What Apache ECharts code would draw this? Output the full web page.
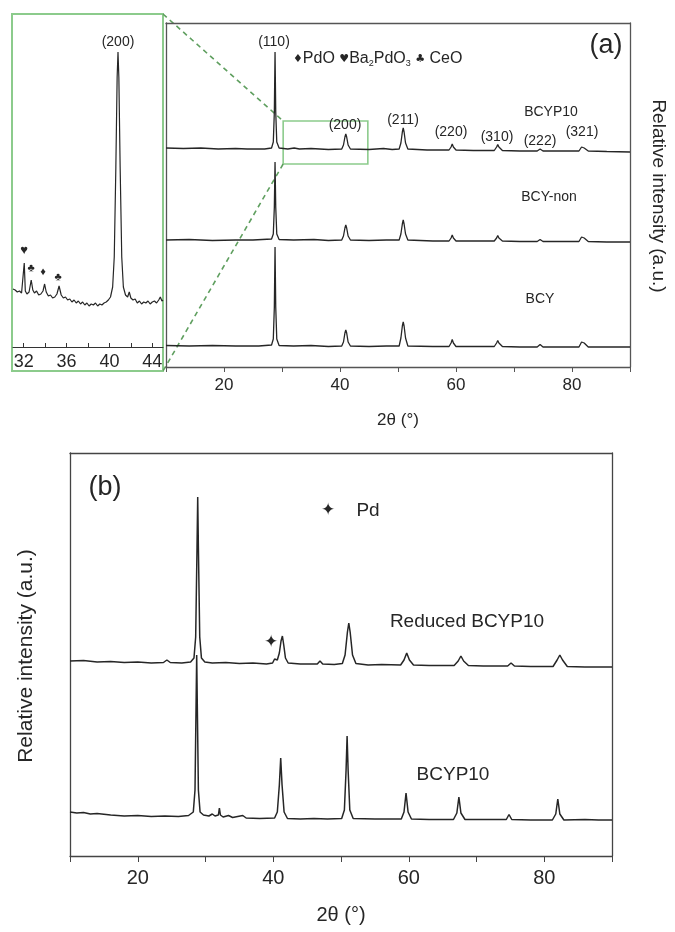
<!DOCTYPE html>
<html>
<head>
<meta charset="utf-8">
<script src="https://cdn.jsdelivr.net/npm/echarts@6/dist/echarts.min.js"></script>
<style>
html, body { margin: 0; padding: 0; background: #fff; }
#chart { width: 675px; height: 932px; }
</style>
</head>
<body>
<div id="chart"></div>
<script>
// x axis ticks / labels
const mainTicks = [10, 20, 30, 40, 50, 60, 70, 80, 90]
const mainLabels = [20, 40, 60, 80]
const insetTicks = [32, 34, 36, 38, 40, 42, 44]
const insetLabels = [32, 36, 40, 44]

// vertical offsets of the stacked patterns
const offsetsA = { BCYP10: 215, 'BCY-non': 125, BCY: 20 }
const offsetsB = { reduced: 189, BCYP10: 36 }

// (a) inset, 31-45 deg, BCYP10
const insetBCYP10 = [
  [31.0, 58], [31.2, 57], [31.4, 55], [31.6, 56], [31.8, 54], [31.95, 56], [32.05, 84], [32.15, 56], [32.3, 53], [32.5, 55],
  [32.7, 67], [32.85, 57], [33.0, 54], [33.2, 56], [33.4, 52], [33.6, 53], [33.8, 56], [33.95, 63], [34.1, 55], [34.3, 51],
  [34.5, 52], [34.7, 49], [34.9, 50], [35.1, 53], [35.3, 61], [35.5, 52], [35.7, 49], [35.9, 50], [36.1, 47], [36.3, 48],
  [36.5, 45], [36.7, 47], [36.9, 44], [37.1, 46], [37.3, 43], [37.5, 45], [37.7, 42], [37.9, 44], [38.1, 41], [38.3, 43],
  [38.5, 42], [38.7, 44], [38.9, 41], [39.1, 43], [39.3, 42], [39.5, 44], [39.7, 45], [39.9, 47], [40.1, 50], [40.3, 60],
  [40.45, 90], [40.6, 180], [40.72, 270], [40.8, 295], [40.88, 270], [41.0, 180], [41.15, 90], [41.3, 60], [41.5, 52], [41.7, 50],
  [41.85, 55], [42.0, 49], [42.2, 47], [42.4, 48], [42.6, 44], [42.8, 46], [43.0, 43], [43.2, 45], [43.4, 44], [43.6, 46],
  [43.8, 43], [44.0, 45], [44.2, 46], [44.4, 44], [44.6, 47], [44.75, 50], [44.9, 46], [45.0, 47]
]

// (a) main patterns
const patBCYP10 = [
  [10, 4], [13, 3.5], [16, 4], [19, 3], [22, 3.5], [24, 3], [24.3, 4.5], [24.6, 3], [27, 3], [28.2, 4],
  [28.5, 10], [28.68, 40], [28.8, 100], [28.92, 40], [29.1, 10], [29.5, 4], [31, 3], [32.1, 4], [33, 3], [35, 3.5],
  [38, 2.5], [40.3, 3], [40.6, 7], [40.85, 15], [41.0, 18], [41.15, 15], [41.4, 7], [41.8, 3], [45, 2.5], [47.5, 3.5],
  [49, 2.5], [50.2, 3], [50.5, 9], [50.75, 20], [50.9, 24], [51.05, 20], [51.3, 9], [51.7, 3], [55, 2], [58.8, 2],
  [59.15, 5], [59.35, 8], [59.55, 5], [60.0, 2], [63, 1.5], [66.6, 1.5], [67.0, 5], [67.2, 7.5], [67.4, 5], [68.0, 1.5],
  [71, 1], [74.0, 1], [74.5, 3], [75.0, 1], [78, 1], [81.2, 1], [81.65, 5], [81.85, 7], [82.1, 4], [82.8, 1],
  [86, 0.5], [90, 0]
]
const patBCYnon = [
  [10, 2], [14, 2.5], [18, 1.5], [22, 2], [25, 2], [28.2, 3], [28.5, 8], [28.68, 35], [28.8, 80], [28.92, 35],
  [29.1, 8], [29.5, 2.5], [32, 2], [35.5, 2.5], [38, 1.5], [40.3, 2], [40.6, 6], [40.85, 14], [41.0, 17], [41.15, 14],
  [41.4, 6], [41.8, 2], [45, 1.5], [48, 2], [50.2, 2], [50.5, 8], [50.75, 18], [50.9, 22], [51.05, 18], [51.3, 8],
  [51.7, 2], [56, 1], [58.8, 1], [59.15, 4], [59.35, 7], [59.55, 4], [60.0, 1], [63, 1], [66.6, 1], [67.0, 4],
  [67.2, 6.5], [67.4, 4], [68.0, 1], [71, 0.5], [74.0, 0.5], [74.5, 2.5], [75.0, 0.5], [78, 0.5], [81.2, 0.5], [81.65, 5],
  [81.85, 6.5], [82.1, 4], [82.8, 0.5], [86, 0], [90, 0]
]
const patBCY = [
  [10, 1.5], [14, 1], [18, 1.5], [22, 1], [26, 1], [28.2, 2], [28.5, 8], [28.68, 40], [28.8, 100], [28.92, 40],
  [29.1, 8], [29.5, 1.5], [32, 1], [35, 1.5], [38, 0.5], [40.3, 1], [40.6, 5], [40.85, 14], [41.0, 17], [41.15, 14],
  [41.4, 5], [41.8, 1], [45, 0.5], [48, 1], [50.2, 1], [50.5, 9], [50.75, 21], [50.9, 25], [51.05, 21], [51.3, 9],
  [51.7, 1], [56, 0.5], [58.8, 0.5], [59.15, 4], [59.35, 7.5], [59.55, 4], [60.0, 0.5], [63, 0.5], [66.6, 0.5], [67.0, 4],
  [67.2, 6.5], [67.4, 4], [68.0, 0.5], [71, 0], [74.0, 0], [74.5, 2.5], [75.0, 0], [78, 0], [81.2, 0], [81.65, 5],
  [81.85, 6.5], [82.1, 4], [82.8, 0], [86, 0], [90, 0]
]

// (b) patterns
const patReduced = [
  [10, 6], [12, 6.5], [14, 5], [16, 5.5], [18, 4.5], [20, 5], [22, 4], [23.8, 4.5], [24.3, 7], [24.8, 4.5],
  [26.5, 4], [27.8, 5], [28.3, 9], [28.55, 30], [28.75, 120], [28.85, 170], [28.95, 120], [29.15, 30], [29.4, 9], [29.9, 5],
  [31, 4], [33, 4.5], [35, 3.5], [37, 4], [39, 3], [39.9, 4], [40.2, 8], [40.4, 10], [40.6, 7], [40.9, 14],
  [41.15, 26], [41.35, 31], [41.55, 22], [41.8, 9], [42.2, 4], [44, 3], [46.5, 3], [46.9, 6], [47.3, 3], [49, 2.5],
  [50.2, 3.5], [50.6, 12], [50.95, 35], [51.15, 44], [51.35, 35], [51.7, 12], [52.2, 3.5], [54, 2], [56, 2.5], [58.8, 2],
  [59.3, 7], [59.7, 14], [60.1, 7], [60.7, 2], [63, 1.5], [66.7, 1.5], [67.3, 6], [67.7, 11], [68.1, 6], [68.8, 1.5],
  [71, 1], [74.6, 1], [75.1, 4], [75.6, 1], [78, 0.5], [81.3, 0.5], [81.9, 7], [82.3, 12], [82.7, 7], [83.4, 0.5],
  [86, 0], [90, 0]
]
const patBCYP10b = [
  [10, 8], [11, 7], [12, 7.5], [13, 6], [14, 6.5], [16, 5], [18, 4], [20, 4.5], [22, 3.5], [24, 4],
  [26, 3.5], [27.5, 4.5], [28.2, 8], [28.45, 30], [28.6, 110], [28.7, 165], [28.8, 110], [28.95, 30], [29.2, 8], [29.7, 5],
  [30.5, 4], [31.0, 6], [31.4, 4], [31.9, 5], [32.05, 12], [32.2, 5], [32.6, 3], [33.4, 4.5], [34, 2.5], [35.5, 4.5],
  [36, 2], [38, 1.5], [40.2, 2], [40.6, 8], [40.9, 35], [41.1, 62], [41.3, 35], [41.6, 8], [42.1, 1.5], [44, 1],
  [46, 1.5], [48, 1], [50.1, 1.5], [50.5, 10], [50.75, 50], [50.9, 84], [51.05, 50], [51.3, 10], [51.8, 1.5], [55, 1],
  [58.9, 1], [59.3, 8], [59.6, 27], [59.9, 8], [60.4, 1], [63, 0.5], [66.6, 0.5], [67.1, 7], [67.4, 23], [67.7, 7],
  [68.3, 0.5], [71, 0.5], [74.4, 0.5], [74.8, 5.5], [75.2, 0.5], [78, 0], [81.2, 0], [81.7, 6], [82.0, 21], [82.3, 6],
  [82.9, 0], [86, 0.5], [88, 0], [90, 0]
]

// zoomed window drawn in panel (a)
const zoomX = [30.2, 44.8]
const zoomY = [203, 246]

const FONT = 'Liberation Sans, Arial, Helvetica, sans-serif'
const INK = '#262626'
const GREEN = '#8ccb8c'
const GREEN_DASH = '#5f9f5f'

const chart = echarts.init(document.getElementById('chart'), null, { renderer: 'canvas' })

const shift = (points, off) => points.map(p => [p[0], p[1] + off])
const curve = (data, xi, yi, w) => ({
  type: 'line', xAxisIndex: xi, yAxisIndex: yi, data,
  showSymbol: false, symbol: 'none', silent: true,
  lineStyle: { color: INK, width: w }
})
const frameAxis = (gridIndex, position, min, max, color) => ({
  gridIndex, type: 'value', position, min, max,
  axisLine: { show: true, onZero: false, lineStyle: { color, width: 1.3 } },
  axisTick: { show: false }, axisLabel: { show: false }, splitLine: { show: false }
})
const text = (x, y, str, size, extra) => ({
  type: 'text', x, y, silent: true, ...(extra || {}),
  style: { text: str, fill: INK, fontSize: size, fontFamily: FONT, align: 'center', verticalAlign: 'middle', ...((extra && extra.style) || {}) }
})

const option = {
  animation: false,
  backgroundColor: '#fff',
  grid: [
    { left: 13, top: 14, width: 150, height: 333 },
    { left: 166, top: 23, width: 464, height: 344 },
    { left: 70, top: 453, width: 542, height: 403 }
  ],
  xAxis: [
    {
      gridIndex: 0, type: 'value', min: 31, max: 45, position: 'bottom',
      axisLine: { show: true, onZero: false, lineStyle: { color: '#333', width: 1.2 } },
      axisTick: { show: true, inside: true, length: 4, customValues: insetTicks, lineStyle: { color: '#333' } },
      axisLabel: { customValues: insetLabels, fontSize: 18, fontFamily: FONT, color: INK, margin: 6 },
      splitLine: { show: false }
    },
    {
      gridIndex: 1, type: 'value', min: 10, max: 90, position: 'bottom',
      axisLine: { show: true, onZero: false, lineStyle: { color: '#555', width: 1.3 } },
      axisTick: { show: true, length: 5, customValues: mainTicks, lineStyle: { color: '#555' } },
      axisLabel: { customValues: mainLabels, fontSize: 17, fontFamily: FONT, color: INK, margin: 10 },
      splitLine: { show: false }
    },
    frameAxis(1, 'top', 10, 90, '#555'),
    {
      gridIndex: 2, type: 'value', min: 10, max: 90, position: 'bottom',
      axisLine: { show: true, onZero: false, lineStyle: { color: '#444', width: 1.3 } },
      axisTick: { show: true, length: 6, customValues: mainTicks, lineStyle: { color: '#444' } },
      axisLabel: { customValues: mainLabels, fontSize: 20, fontFamily: FONT, color: INK, margin: 12 },
      splitLine: { show: false }
    },
    frameAxis(2, 'top', 10, 90, '#444')
  ],
  yAxis: [
    { gridIndex: 0, type: 'value', min: 0, max: 333, show: false },
    frameAxis(1, 'left', 0, 344, '#555'),
    frameAxis(1, 'right', 0, 344, '#555'),
    frameAxis(2, 'left', 0, 403, '#444'),
    frameAxis(2, 'right', 0, 403, '#444')
  ],
  series: [
    curve(insetBCYP10, 0, 0, 1.2),
    curve(shift(patBCYP10, offsetsA.BCYP10), 1, 1, 1.3),
    curve(shift(patBCYnon, offsetsA['BCY-non']), 1, 1, 1.3),
    curve(shift(patBCY, offsetsA.BCY), 1, 1, 1.3),
    curve(shift(patReduced, offsetsB.reduced), 3, 3, 1.5),
    curve(shift(patBCYP10b, offsetsB.BCYP10), 3, 3, 1.5)
  ]
}
chart.setOption(option)

// green zoom box and the dashed guide lines to the inset
const toPx = pt => chart.convertToPixel({ xAxisIndex: 1, yAxisIndex: 1 }, pt)
const boxTL = toPx([zoomX[0], zoomY[1]])
const boxBR = toPx([zoomX[1], zoomY[0]])
const insetBox = { x: 12, y: 14, w: 151, h: 357 }

chart.setOption({
  graphic: [
    { type: 'rect', silent: true, shape: { x: insetBox.x, y: insetBox.y, width: insetBox.w, height: insetBox.h },
      style: { fill: 'none', stroke: GREEN, lineWidth: 2 } },
    { type: 'rect', silent: true, shape: { x: boxTL[0], y: boxTL[1], width: boxBR[0] - boxTL[0], height: boxBR[1] - boxTL[1] },
      style: { fill: 'none', stroke: GREEN, lineWidth: 1.6 } },
    { type: 'line', silent: true, shape: { x1: insetBox.x + insetBox.w, y1: insetBox.y, x2: boxTL[0], y2: boxTL[1] },
      style: { stroke: GREEN_DASH, lineWidth: 1.6, lineDash: [5, 4] } },
    { type: 'line', silent: true, shape: { x1: boxTL[0], y1: boxBR[1], x2: insetBox.x + insetBox.w, y2: insetBox.y + insetBox.h },
      style: { stroke: GREEN_DASH, lineWidth: 1.6, lineDash: [5, 4] } },

    // inset labels
    text(118, 42, '(200)', 14),
    text(24, 250, '♥', 13),
    text(31, 268, '♣', 11),
    text(43, 272, '♦', 11),
    text(58, 277, '♣', 11),

    // panel (a)
    text(606, 46, '(a)', 27),
    text(274, 42, '(110)', 14),
    text(293, 59, '{s|♦}PdO {s|♥}Ba{sub|2}PdO{sub|3} {s|♣} CeO', 16, {
      style: {
        align: 'left',
        rich: {
          s: { fontSize: 11, fontFamily: 'DejaVu Sans', fill: INK },
          sub: { fontSize: 9, fontFamily: FONT, fill: INK, padding: [9, 0, 0, 0] }
        }
      }
    }),
    text(551, 112, 'BCYP10', 14),
    text(345, 125, '(200)', 14),
    text(403, 120, '(211)', 14),
    text(451, 132, '(220)', 14),
    text(497, 137, '(310)', 14),
    text(540, 141, '(222)', 14),
    text(582, 132, '(321)', 14),
    text(549, 197, 'BCY-non', 14),
    text(540, 299, 'BCY', 14),
    text(398, 420, '2θ (°)', 17),
    text(658, 196, 'Relative intensity (a.u.)', 19, { rotation: -Math.PI / 2 }),

    // panel (b)
    text(105, 488, '(b)', 27),
    text(328, 511, '✦', 17, { style: { fontFamily: 'DejaVu Sans' } }),
    text(368, 511, 'Pd', 19),
    text(271, 643, '✦', 17, { style: { fontFamily: 'DejaVu Sans' } }),
    text(467, 622, 'Reduced BCYP10', 19),
    text(453, 775, 'BCYP10', 19),
    text(341, 915, '2θ (°)', 20),
    text(26, 656, 'Relative intensity (a.u.)', 21, { rotation: Math.PI / 2 })
  ]
})
</script>
</body>
</html>
